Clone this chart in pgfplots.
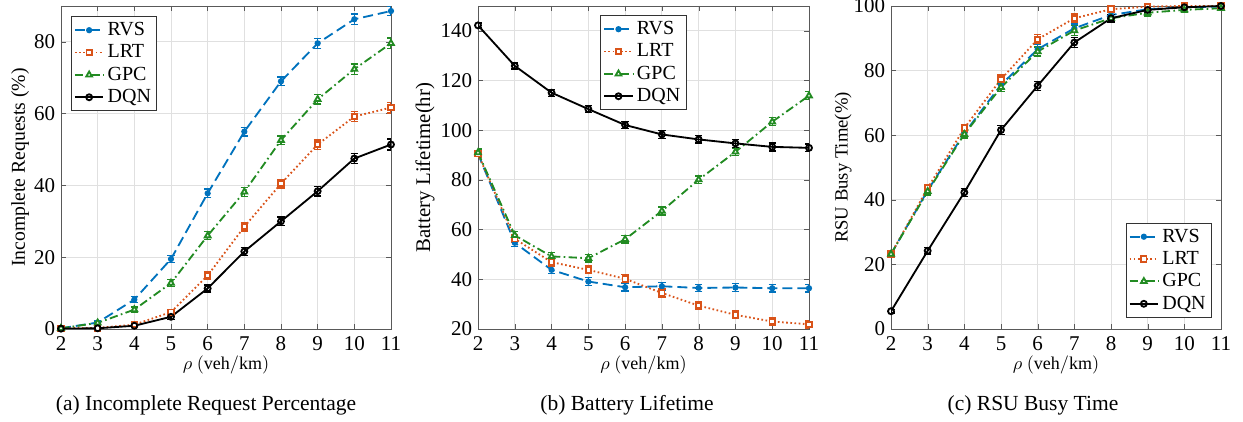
\documentclass[border=0pt]{standalone}
\usepackage{fontspec}
\setmainfont{Liberation Serif}
\usepackage{pgfplots}
\pgfplotsset{compat=1.18}

\definecolor{cRVS}{RGB}{0,114,189}
\definecolor{cLRT}{RGB}{217,83,25}
\definecolor{cGPC}{RGB}{34,139,34}

\pgfplotsset{
  panel/.style={
    scale only axis, width=198pt, height=193.8pt,
    xmin=2, xmax=11, xtick={2,...,11},
    axis line style={black!65},
    tick style={black!65},
    major tick length=3pt,
    tick align=inside,
    grid=major, major grid style={black!12, line width=0.5pt},
    /pgf/number format/assume math mode=true,
    tick label style={font=\fontsize{12.6}{14}\selectfont},
    xticklabel style={yshift=-1pt},
    xlabel={$\rho\ (\mathrm{veh/km})$},
    xlabel style={font=\fontsize{10.8}{12}\selectfont, at={(axis description cs:0.5,-0.111)}, anchor=center},
    legend style={font=\fontsize{12}{13}\selectfont, draw=black!80, line width=0.6pt,
      inner sep=1.5pt, row sep=0pt, cells={anchor=west}},
    legend cell align=left,
    error bars/y dir=both, error bars/y explicit,
    error bars/error bar style={solid, line width=0.8pt},
    error bars/error mark options={rotate=90, mark size=2.2pt, solid, line width=0.8pt},
  },
  rvs/.style={color=cRVS, line width=1.1pt, dash pattern=on 6pt off 3pt,
    mark=*, mark size=1.3pt, mark options={solid}},
  lrt/.style={color=cLRT, line width=1.1pt, dash pattern=on 1pt off 1.5pt,
    mark=square*, mark size=1.6pt, mark options={solid, fill=white}},
  gpc/.style={color=cGPC, line width=1.1pt, dash pattern=on 5pt off 2pt on 1pt off 2pt,
    mark=triangle*, mark size=2pt, mark options={solid, fill=white}},
  dqn/.style={color=black, line width=1.1pt, solid,
    mark=o, mark size=1.8pt, mark options={solid}},
}

\begin{document}
\begin{tikzpicture}
\useasboundingbox (0,0) rectangle (745.8pt,253.2pt);

% (a) incomplete requests
\begin{axis}[panel, at={(36.6pt,55.8pt)}, anchor=south west,
  ymin=0, ymax=90, ytick={0,20,40,60,80},
  ylabel={Incomplete Requests (\%)},
  ylabel style={font=\fontsize{11.8}{13}\selectfont, at={(axis description cs:-0.124,0.5)}, anchor=center},
  legend style={at={(axis description cs:0,1)}, anchor=north west, xshift=6pt, yshift=-6pt},
]
\addplot[rvs] coordinates {(2,0.2) +- (0,0.3) (3,1.8) +- (0,0.4) (4,8.2) +- (0,0.8) (5,19.5) +- (0,0.9) (6,37.8) +- (0,1.2) (7,55) +- (0,1.2) (8,69) +- (0,1.2) (9,79.6) +- (0,1.4) (10,86.3) +- (0,1.5) (11,88.6) +- (0,1.2)};
\addplot[lrt] coordinates {(2,0.2) +- (0,0.3) (3,0.3) +- (0,0.3) (4,1.2) +- (0,0.5) (5,4.7) +- (0,0.8) (6,14.9) +- (0,1.1) (7,28.5) +- (0,1.2) (8,40.5) +- (0,1.2) (9,51.4) +- (0,1.3) (10,59.2) +- (0,1.4) (11,61.7) +- (0,1.5)};
\addplot[gpc] coordinates {(2,0.2) +- (0,0.3) (3,1.7) +- (0,0.4) (4,5.4) +- (0,0.7) (5,12.8) +- (0,0.9) (6,26) +- (0,1.1) (7,38.2) +- (0,1.2) (8,52.6) +- (0,1.2) (9,64) +- (0,1.3) (10,72.4) +- (0,1.4) (11,79.6) +- (0,1.5)};
\addplot[dqn] coordinates {(2,0.1) +- (0,0.3) (3,0.2) +- (0,0.3) (4,0.9) +- (0,0.4) (5,3.4) +- (0,0.8) (6,11.3) +- (0,1.0) (7,21.6) +- (0,1.1) (8,30) +- (0,1.2) (9,38.4) +- (0,1.3) (10,47.5) +- (0,1.4) (11,51.4) +- (0,1.5)};
\legend{RVS,LRT,GPC,DQN}
\end{axis}

% (b) battery lifetime
\begin{axis}[panel, at={(286.8pt,55.8pt)}, anchor=south west, width=198.6pt,
  ymin=20, ymax=150, ytick={20,40,...,140},
  ylabel={Battery Lifetime(hr)},
  ylabel style={font=\fontsize{12.5}{14}\selectfont, at={(axis description cs:-0.160,0.5)}, anchor=center},
  legend style={at={(axis description cs:0.5,1)}, anchor=north, yshift=-5.4pt},
]
\addplot[rvs] coordinates {(2,90.5) +- (0,1.5) (3,54.7) +- (0,1.5) (4,43.8) +- (0,1.5) (5,39.1) +- (0,1.5) (6,36.8) +- (0,1.5) (7,37.2) +- (0,1.5) (8,36.5) +- (0,1.5) (9,36.7) +- (0,1.6) (10,36.4) +- (0,1.5) (11,36.4) +- (0,1.5)};
\addplot[lrt] coordinates {(2,90.5) +- (0,1.5) (3,56.3) +- (0,1.5) (4,46.9) +- (0,1.5) (5,43.8) +- (0,1.5) (6,40.2) +- (0,1.6) (7,34.5) +- (0,1.6) (8,29.4) +- (0,1.5) (9,25.7) +- (0,1.6) (10,23) +- (0,1.6) (11,21.9) +- (0,1.5)};
\addplot[gpc] coordinates {(2,91) +- (0,1.5) (3,57.7) +- (0,1.5) (4,49.2) +- (0,1.5) (5,48.5) +- (0,1.5) (6,56.1) +- (0,1.5) (7,67.5) +- (0,1.6) (8,80.1) +- (0,1.5) (9,91.3) +- (0,1.6) (10,103.4) +- (0,1.6) (11,113.9) +- (0,1.6)};
\addplot[dqn] coordinates {(2,142.2) +- (0,1) (3,125.9) +- (0,1.2) (4,115.1) +- (0,1.4) (5,108.5) +- (0,1.4) (6,102.1) +- (0,1.5) (7,98.3) +- (0,1.6) (8,96.3) +- (0,1.5) (9,94.7) +- (0,1.7) (10,93.3) +- (0,1.6) (11,92.9) +- (0,1.5)};
\legend{RVS,LRT,GPC,DQN}
\end{axis}

% (c) RSU busy time
\begin{axis}[panel, at={(534.6pt,55.8pt)}, anchor=south west,
  ymin=0, ymax=100, ytick={0,20,...,100},
  ylabel={RSU Busy Time(\%)},
  ylabel style={font=\fontsize{11.2}{13}\selectfont, at={(axis description cs:-0.145,0.5)}, anchor=center},
  legend style={at={(axis description cs:1,0)}, anchor=south east, xshift=-5.4pt, yshift=6.6pt},
]
\addplot[rvs] coordinates {(2,23.2) +- (0,0.8) (3,42.9) +- (0,1.1) (4,60.6) +- (0,1.2) (5,75.6) +- (0,1.3) (6,86.6) +- (0,1.4) (7,93.1) +- (0,1.3) (8,97.2) +- (0,1.0) (9,99) +- (0,0.8) (10,99.6) +- (0,0.5) (11,99.8) +- (0,0.3)};
\addplot[lrt] coordinates {(2,23.2) +- (0,0.8) (3,43.6) +- (0,1.1) (4,62.2) +- (0,1.2) (5,77.3) +- (0,1.3) (6,89.7) +- (0,1.4) (7,96.2) +- (0,1.3) (8,99) +- (0,1.0) (9,99.8) +- (0,0.5) (10,100) +- (0,0.3) (11,100) +- (0,0.2)};
\addplot[gpc] coordinates {(2,23.2) +- (0,0.8) (3,42.6) +- (0,1.1) (4,60.3) +- (0,1.2) (5,74.8) +- (0,1.3) (6,85.9) +- (0,1.4) (7,92.4) +- (0,1.5) (8,96.2) +- (0,1.2) (9,97.9) +- (0,1.0) (10,98.8) +- (0,0.8) (11,99.3) +- (0,0.6)};
\addplot[dqn] coordinates {(2,5.5) +- (0,0.6) (3,24.2) +- (0,1.0) (4,42.3) +- (0,1.2) (5,61.6) +- (0,1.3) (6,75.3) +- (0,1.4) (7,88.7) +- (0,1.5) (8,96.2) +- (0,1.2) (9,98.8) +- (0,1.0) (10,99.6) +- (0,0.6) (11,100) +- (0,0.3)};
\legend{RVS,LRT,GPC,DQN}
\end{axis}

\node[font=\fontsize{12.9}{15}\selectfont] at (123.6pt,10.2pt) {(a) Incomplete Request Percentage};
\node[font=\fontsize{12.9}{15}\selectfont] at (376.2pt,10.2pt) {(b) Battery Lifetime};
\node[font=\fontsize{12.9}{15}\selectfont] at (619.8pt,10.2pt) {(c) RSU Busy Time};
\end{tikzpicture}
\end{document}
